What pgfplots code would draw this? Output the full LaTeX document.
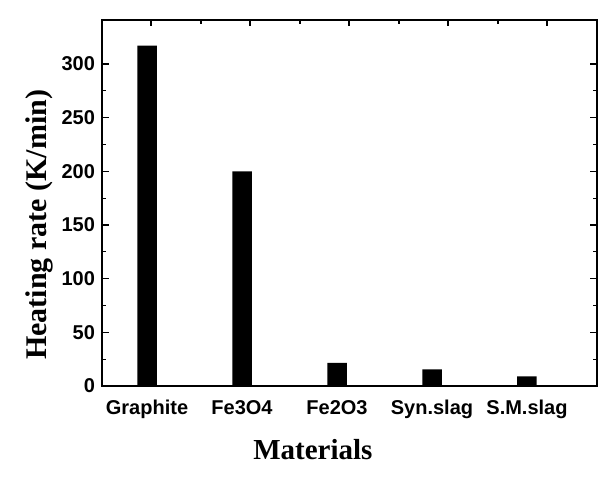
\documentclass[border=0pt]{standalone}
\usepackage{fontspec}
\setmainfont{Liberation Sans}
\newfontfamily\timesfont{Liberation Serif}
\usepackage{pgfplots}
\pgfplotsset{compat=1.18}

% 1 px of the reference = 0.5pt
\pgfplotsset{
  boxstyle/.style={
    scale only axis, width=247.5pt, height=183pt,
    axis line style={line width=0.7pt, black},
    tick style={line width=0.6pt, black},
    tick align=inside,
  },
}

\begin{document}
\begin{tikzpicture}
\begin{axis}[boxstyle,
    name=main,
    xmin=-0.474, xmax=4.737,
    ymin=0, ymax=341,
    ybar, bar width=9.75pt,
    xtick={0,1,2,3,4},
    xticklabels={Graphite,Fe3O4,Fe2O3,Syn.slag,S.M.slag},
    xtick pos=bottom,
    major x tick style={draw=none},
    ytick={0,50,...,300},
    minor y tick num=1,
    ytick pos=both,
    major tick length=3.5pt,
    minor tick length=2pt,
    /pgf/number format/assume math mode=true,
    tick label style={font=\fontsize{10}{12}\selectfont\bfseries, black},
    xlabel={Materials},
    ylabel={Heating rate (K/min)},
    xlabel style={font=\fontsize{14.5}{16}\selectfont\timesfont\bfseries,
      at={(axis description cs:0.426,-0.175)}, anchor=center},
    ylabel style={font=\fontsize{15}{17}\selectfont\timesfont\bfseries,
      at={(axis description cs:-0.127,0.44)}, anchor=center},
  ]
  \addplot[fill=black, draw=none] coordinates {
    (0,317) (1,200) (2,21.5) (3,15.5) (4,9)
  };
\end{axis}
% top axis ticks (Origin style, on their own spacing)
\begin{axis}[boxstyle,
    xmin=102, xmax=597, ymin=0, ymax=1,
    axis x line*=top, axis y line=none,
    xtick={151,250,349,448,547},
    minor xtick={201,300,399,498},
    xticklabels={},
    major tick length=3pt, minor tick length=1.8pt,
  ]
\end{axis}
\path ([shift={(-51pt,-49pt)}]main.south west) rectangle ([shift={(9pt,10pt)}]main.north east);
\end{tikzpicture}
\end{document}
